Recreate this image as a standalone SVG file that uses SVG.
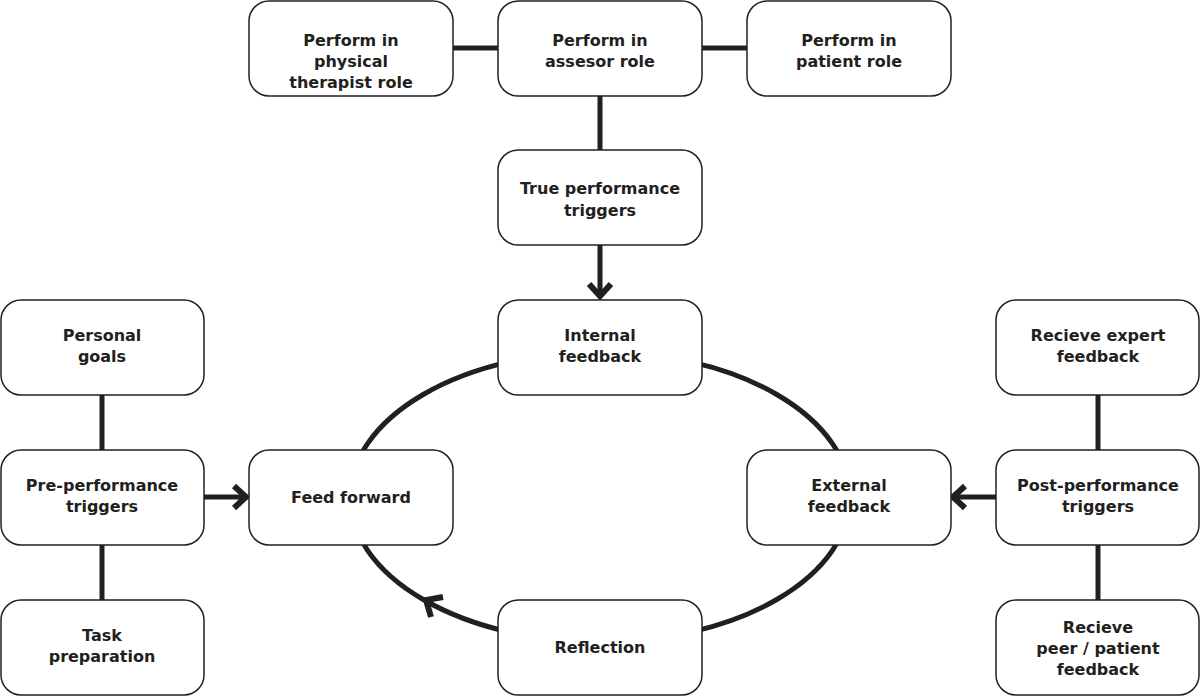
<svg xmlns="http://www.w3.org/2000/svg" width="1200" height="696" viewBox="0 0 1200 696">
<style>
.box{fill:#fff;stroke:#231f20;stroke-width:1.5}
.t{font-family:"DejaVu Sans","Liberation Sans",sans-serif;font-weight:700;font-size:16px;fill:#231f20;text-anchor:middle}
.c{fill:none;stroke:#231f20;stroke-width:5}
.ah{fill:none;stroke:#231f20;stroke-width:6;stroke-linecap:butt}
</style>
<rect width="1200" height="696" fill="#fff"/>
<g id="connectors">
<ellipse class="c" cx="600" cy="497" rx="250" ry="145"/>
<line class="c" x1="452" y1="48" x2="498" y2="48"/>
<line class="c" x1="702" y1="48" x2="747" y2="48"/>
<line class="c" x1="600" y1="96" x2="600" y2="150"/>
<line class="c" x1="600" y1="245" x2="600" y2="296"/>
<polyline class="ah" points="589,284 600,296 611,284"/>
<line class="c" x1="102" y1="395" x2="102" y2="450"/>
<line class="c" x1="102" y1="545" x2="102" y2="600"/>
<line class="c" x1="204" y1="497" x2="245" y2="497"/>
<polyline class="ah" points="234,486 246,497 234,508"/>
<line class="c" x1="1098" y1="395" x2="1098" y2="450"/>
<line class="c" x1="1098" y1="545" x2="1098" y2="600"/>
<line class="c" x1="996" y1="497" x2="954" y2="497"/>
<polyline class="ah" points="965,486 953,497 965,508"/>
<polyline class="ah" points="431,617 426,600 443,597"/>
</g>
<g id="n1"><rect class="box" x="249" y="1" width="204" height="95" rx="20"/><text class="t" x="351" y="46">Perform in</text><text class="t" x="351" y="67">physical</text><text class="t" x="351" y="88">therapist role</text></g>
<g id="n2"><rect class="box" x="498" y="1" width="204" height="95" rx="20"/><text class="t" x="600" y="46">Perform in</text><text class="t" x="600" y="67">assesor role</text></g>
<g id="n3"><rect class="box" x="747" y="1" width="204" height="95" rx="20"/><text class="t" x="849" y="46">Perform in</text><text class="t" x="849" y="67">patient role</text></g>
<g id="n4"><rect class="box" x="498" y="150" width="204" height="95" rx="20"/><text class="t" x="600" y="194">True performance</text><text class="t" x="600" y="216">triggers</text></g>
<g id="n5"><rect class="box" x="498" y="300" width="204" height="95" rx="20"/><text class="t" x="600" y="341">Internal</text><text class="t" x="600" y="362">feedback</text></g>
<g id="n6"><rect class="box" x="1" y="300" width="203" height="95" rx="20"/><text class="t" x="102" y="341">Personal</text><text class="t" x="102" y="362">goals</text></g>
<g id="n7"><rect class="box" x="1" y="450" width="203" height="95" rx="20"/><text class="t" x="102" y="491">Pre-performance</text><text class="t" x="102" y="512">triggers</text></g>
<g id="n8"><rect class="box" x="1" y="600" width="203" height="95" rx="20"/><text class="t" x="102" y="641">Task</text><text class="t" x="102" y="662">preparation</text></g>
<g id="n9"><rect class="box" x="249" y="450" width="204" height="95" rx="20"/><text class="t" x="351" y="503">Feed forward</text></g>
<g id="n10"><rect class="box" x="747" y="450" width="204" height="95" rx="20"/><text class="t" x="849" y="491">External</text><text class="t" x="849" y="512">feedback</text></g>
<g id="n11"><rect class="box" x="498" y="600" width="204" height="95" rx="20"/><text class="t" x="600" y="653">Reflection</text></g>
<g id="n12"><rect class="box" x="996" y="300" width="203" height="95" rx="20"/><text class="t" x="1098" y="341">Recieve expert</text><text class="t" x="1098" y="362">feedback</text></g>
<g id="n13"><rect class="box" x="996" y="450" width="203" height="95" rx="20"/><text class="t" x="1098" y="491">Post-performance</text><text class="t" x="1098" y="512">triggers</text></g>
<g id="n14"><rect class="box" x="996" y="600" width="203" height="95" rx="20"/><text class="t" x="1098" y="633">Recieve</text><text class="t" x="1098" y="654">peer / patient</text><text class="t" x="1098" y="675">feedback</text></g>
</svg>
